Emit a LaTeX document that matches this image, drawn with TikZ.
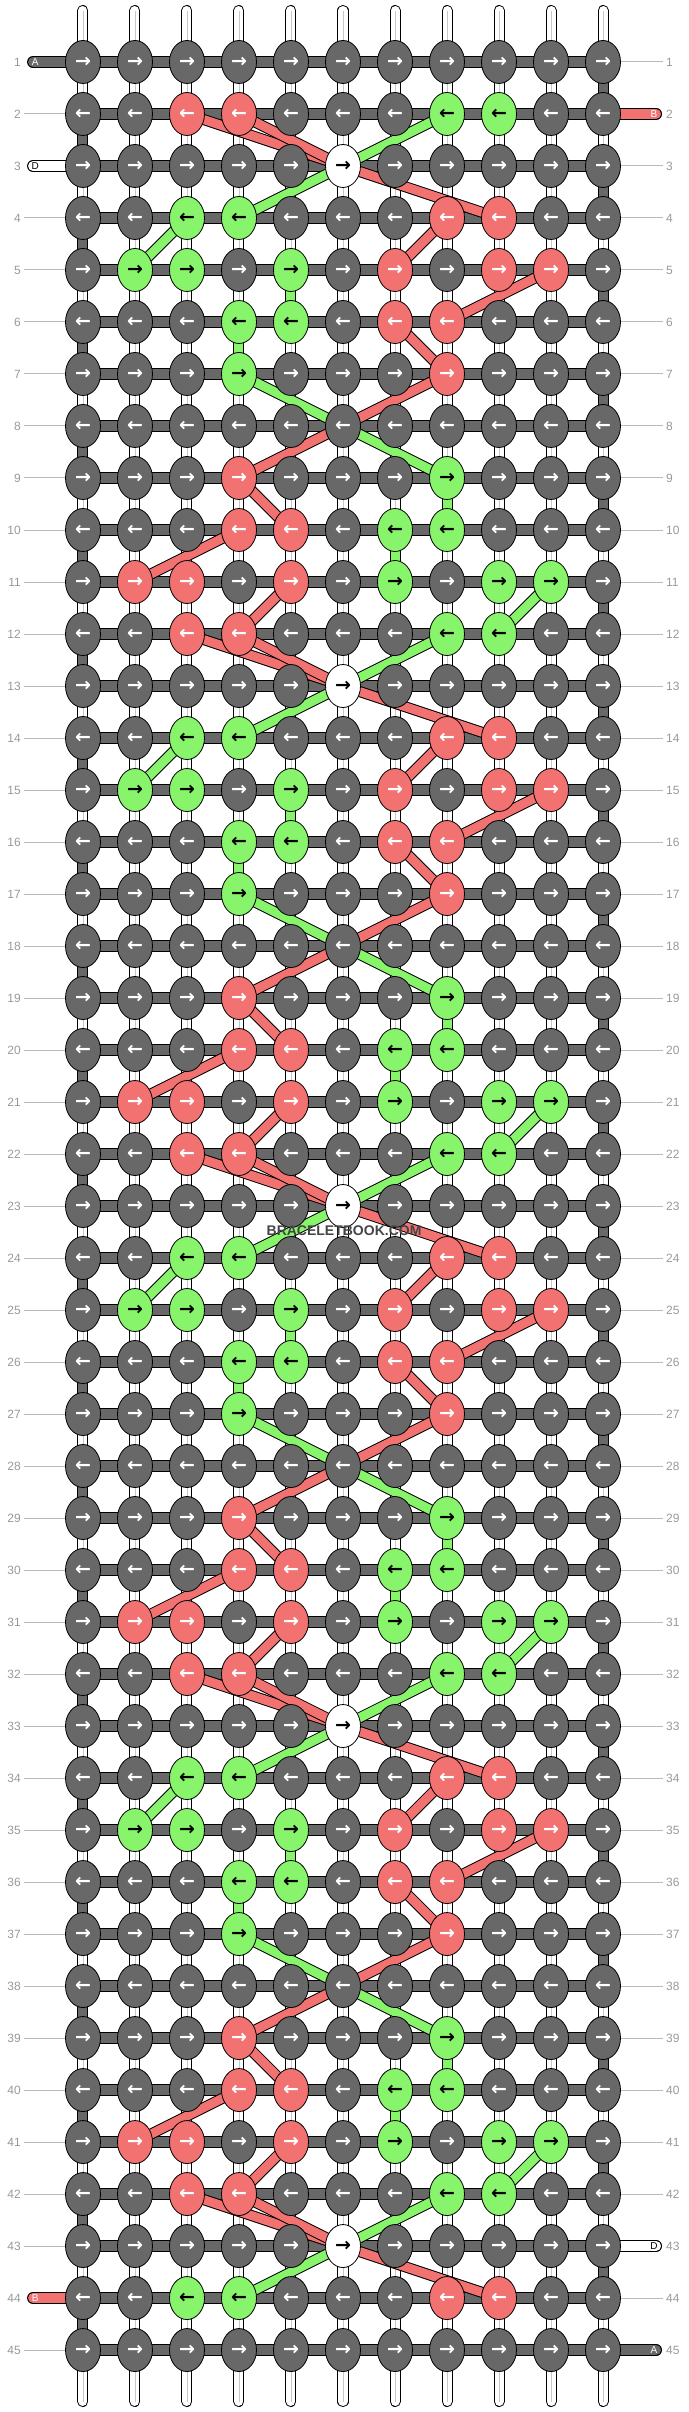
\documentclass[tikz,border=0pt]{standalone}
\usepackage{fontspec}
\setmainfont{Liberation Sans}
\newfontfamily\arrowfont{DejaVu Sans}
\usetikzlibrary{shapes.geometric}
\definecolor{kgray}{HTML}{686868}
\definecolor{kred}{HTML}{F27272}
\definecolor{kgreen}{HTML}{88F46C}
\definecolor{lblgray}{HTML}{999999}
\pgfdeclarelayer{warp}
\pgfdeclarelayer{band}
\pgfsetlayers{warp,band,main}
% colours of the knots, one line per row of the repeat (rows 2 to 11)
\newcommand\rowpattern[1]{\ifcase#1\space
 g,g,r,r,g,g,g,n,n,g,g\or
 g,g,g,g,g,w,g,g,g,g,g\or
 g,g,n,n,g,g,g,r,r,g,g\or
 g,n,n,g,n,g,r,g,r,r,g\or
 g,g,g,n,n,g,r,r,g,g,g\or
 g,g,g,n,g,g,g,r,g,g,g\or
 g,g,g,g,g,g,g,g,g,g,g\or
 g,g,g,r,g,g,g,n,g,g,g\or
 g,g,g,r,r,g,n,n,g,g,g\or
 g,r,r,g,r,g,n,g,n,n,g\fi}
\begin{document}
\begin{tikzpicture}[x=52pt,y=-52pt,
  knot/.style={ellipse,draw=black,line width=0.8pt,minimum width=35pt,minimum height=43pt,
    inner sep=0pt,font=\arrowfont\bfseries\fontsize{19}{19}\selectfont},
  kg/.style={fill=kgray,text=white},
  kr/.style={fill=kred,text=white},
  kn/.style={fill=kgreen,text=black},
  kw/.style={fill=white,text=black},
  warp/.style={double=white,double distance=9pt,line width=1pt,line cap=round},
  warpmid/.style={draw=black!22,line width=0.7pt},
  turn/.style={double=kgray,double distance=9pt,line width=1pt},
  bar/.style={double=kgray,double distance=10pt,line width=1pt},
  tagbar/.style={double=#1,double distance=10pt,line width=1pt,line cap=round},
  redband/.style={double=kred,double distance=9pt,line width=1pt},
  greenband/.style={double=kgreen,double distance=9pt,line width=1pt},
  lbl/.style={text=lblgray,font=\fontsize{12}{12}\selectfont,inner sep=2.5pt},
  lblline/.style={draw=black!27,line width=1pt},
  tagtext/.style={font=\fontsize{10}{10}\selectfont,inner sep=0pt},
  watermark/.style={text=black!73,font=\bfseries\fontsize{14}{14}\selectfont}]
\useasboundingbox (-0.596,-0.192) rectangle (12.635,46.192);

% knots
\foreach \r in {1,...,45}{
  \pgfmathtruncatemacro\pidx{(\r==1 || \r==45) ? 6 : mod(\r-2,10)}
  \edef\pat{\rowpattern{\pidx}}
  \foreach \k [count=\c] in \pat
    \node[knot,k\k] (k-\r-\c) at (\c,\r) {\ifodd\r →\else ←\fi};
}

% row numbers
\foreach \r in {1,...,45}{
  \node[lbl,anchor=east] (ll-\r) at (-0.144,\r) {\r};
  \node[lbl,anchor=west] (rl-\r) at (12.163,\r) {\r};
}

% string ends
\foreach \c in {1,...,11}{
  \coordinate (t-\c) at (\c,0.01);
  \coordinate (b-\c) at (\c,45.99);
}
\coordinate (tag-A1) at (0.04,1);
\coordinate (tag-D3) at (0.04,3);
\coordinate (tag-B44) at (0.04,44);
\coordinate (tag-B2) at (12.02,2);
\coordinate (tag-D43) at (12.02,43);
\coordinate (tag-A45) at (12.02,45);

\begin{pgfonlayer}{warp}
\foreach \c in {1,...,11}{
  \draw[warp] (t-\c) -- (b-\c);
  \draw[warpmid] (t-\c) -- (b-\c);
}
\foreach \a in {2,4,...,44}{
  \pgfmathtruncatemacro\b{\a+1}
  \draw[turn] (k-\a-1.center) -- (k-\b-1.center);
}
\foreach \a in {1,3,...,43}{
  \pgfmathtruncatemacro\b{\a+1}
  \draw[turn] (k-\a-11.center) -- (k-\b-11.center);
}
\foreach \r in {1,...,45}
  \draw[bar] (k-\r-1.center) -- (k-\r-11.center);
\draw[tagbar=kgray] (tag-A1) -- (k-1-1.center);
\draw[tagbar=white] (tag-D3) -- (k-3-1.center);
\draw[tagbar=kred] (tag-B44) -- (k-44-1.center);
\draw[tagbar=kred] (tag-B2) -- (k-2-11.center);
\draw[tagbar=white] (tag-D43) -- (k-43-11.center);
\draw[tagbar=kgray] (tag-A45) -- (k-45-11.center);
% lines to the row numbers
\foreach \r in {1,...,45}{
  \ifnum\r=1 \else\ifnum\r=3 \else\ifnum\r=44 \else
    \draw[lblline] (ll-\r) -- (k-\r-1);
  \fi\fi\fi
  \ifnum\r=2 \else\ifnum\r=43 \else\ifnum\r=45 \else
    \draw[lblline] (k-\r-11) -- (rl-\r);
  \fi\fi\fi
}
\end{pgfonlayer}

% coloured strings moving between knots
\begin{pgfonlayer}{band}
\foreach \p in {0,10,20,30,40}{
  \pgfmathtruncatemacro\nA{\p+2}
  \pgfmathtruncatemacro\nB{\p+3}
  \pgfmathtruncatemacro\nC{\p+4}
  \draw[redband] (k-\nA-3.center) -- (k-\nB-6.center);
  \draw[redband] (k-\nA-4.center) -- (k-\nB-6.center);
  \draw[greenband] (k-\nA-8.center) -- (k-\nB-6.center);
  \draw[redband] (k-\nB-6.center) -- (k-\nC-9.center);
  \draw[greenband] (k-\nB-6.center) -- (k-\nC-4.center);
  \ifnum\p<40
    \pgfmathtruncatemacro\nD{\p+5}
    \pgfmathtruncatemacro\nE{\p+6}
    \pgfmathtruncatemacro\nF{\p+7}
    \pgfmathtruncatemacro\nH{\p+9}
    \pgfmathtruncatemacro\nI{\p+10}
    \pgfmathtruncatemacro\nJ{\p+11}
    \pgfmathtruncatemacro\nK{\p+12}
    \draw[greenband] (k-\nC-3.center) -- (k-\nD-2.center);
    \draw[redband] (k-\nC-8.center) -- (k-\nD-7.center);
    \draw[redband] (k-\nD-10.center) -- (k-\nE-8.center);
    \draw[greenband] (k-\nD-5.center) -- (k-\nE-5.center);
    \draw[greenband] (k-\nE-4.center) -- (k-\nF-4.center);
    \draw[redband] (k-\nE-7.center) -- (k-\nF-8.center);
    \draw[greenband] (k-\nF-4.center) -- (k-\nH-8.center);
    \draw[redband] (k-\nF-8.center) -- (k-\nH-4.center);
    \draw[redband] (k-\nH-4.center) -- (k-\nI-5.center);
    \draw[greenband] (k-\nH-8.center) -- (k-\nI-8.center);
    \draw[redband] (k-\nI-4.center) -- (k-\nJ-2.center);
    \draw[greenband] (k-\nI-7.center) -- (k-\nJ-7.center);
    \draw[redband] (k-\nJ-5.center) -- (k-\nK-4.center);
    \draw[greenband] (k-\nJ-10.center) -- (k-\nK-9.center);
  \fi
}
\end{pgfonlayer}

% letters on the string ends
\node[tagtext,text=white] (let-A1) at (0.08,1) {A};
\node[tagtext,text=black] (let-D3) at (0.08,3) {D};
\node[tagtext,text=white] (let-B44) at (0.08,44) {B};
\node[tagtext,text=white] (let-B2) at (11.98,2) {B};
\node[tagtext,text=black] (let-D43) at (11.98,43) {D};
\node[tagtext,text=white] (let-A45) at (11.98,45) {A};

\node[watermark] (wm) at (6.02,23.48) {BRACELETBOOK.COM};
\end{tikzpicture}
\end{document}
